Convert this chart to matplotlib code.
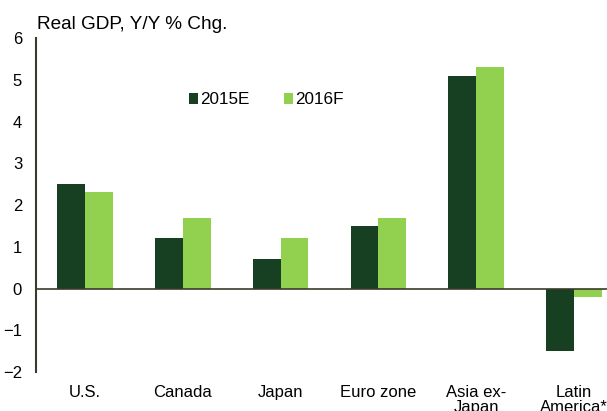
import matplotlib.pyplot as plt
import numpy as np

# Data
regions = ['U.S.', 'Canada', 'Japan', 'Euro zone', 'Asia ex-\nJapan', 'Latin\nAmerica*']
gdp_2015 = [2.5, 1.2, 0.7, 1.5, 5.1, -1.5]
gdp_2016 = [2.3, 1.7, 1.2, 1.7, 5.3, -0.2]
series_names = ['2015E', '2016F']

dark = '#173f22'
light = '#92d050'
axis_col = '#3b3b2b'

plt.rcParams['font.family'] = ['Liberation Sans', 'DejaVu Sans']

fig = plt.figure(figsize=(6.07, 4.11), dpi=100)
# axes run past the right edge, as in the original crop
ax = fig.add_axes([36 / 607, 1 - 372 / 411, 587 / 607, 334 / 411])

x = np.arange(len(regions))
w = 0.285
ax.bar(x - w / 2, gdp_2015, w, color=dark, label=series_names[0])
ax.bar(x + w / 2, gdp_2016, w, color=light, label=series_names[1])

ax.set_xlim(-0.5, len(regions) - 0.5)
ax.set_ylim(-2, 6)
ax.set_yticks(range(-2, 7))
ax.axhline(0, color=axis_col, linewidth=1.2)

for s in ['top', 'right', 'bottom']:
    ax.spines[s].set_visible(False)
ax.spines['left'].set_color(axis_col)
ax.spines['left'].set_linewidth(1.5)

ax.set_xticks(x)
ax.set_xticklabels(regions, fontsize=12, linespacing=1.05)
ax.tick_params(axis='x', length=0, pad=9)
ax.tick_params(axis='y', length=0, labelsize=12, pad=10)

ax.text(0.002, 1 + 9 / 334, 'Real GDP, Y/Y % Chg.', transform=ax.transAxes,
        fontsize=13.7, ha='left', va='baseline')

ax.legend(loc='center left', bbox_to_anchor=(153 / 587, 272 / 334), ncol=2,
          frameon=False, fontsize=12.3, borderpad=0, borderaxespad=0,
          handlelength=0.55, handleheight=0.55, handletextpad=0.12,
          columnspacing=2.0)

fig.savefig('out.png', dpi=100)
